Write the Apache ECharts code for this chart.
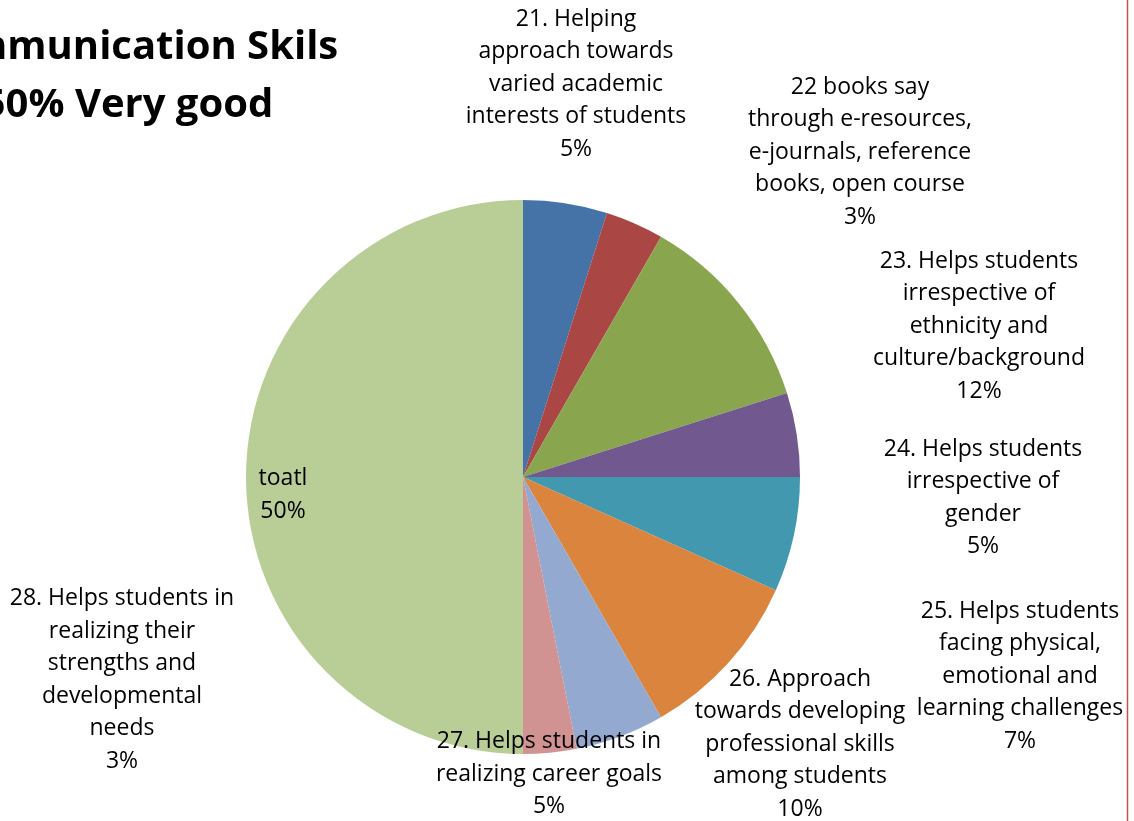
<!DOCTYPE html>
<html><head><meta charset="utf-8">
<script src="https://cdn.jsdelivr.net/npm/echarts@6/dist/echarts.min.js"></script>
<style>html,body{margin:0;padding:0;background:#fff}#c{width:1134px;height:821px}</style>
</head><body><div id="c"></div>
<script>
const categories = [
  "21. Helping\napproach towards\nvaried academic\ninterests of students",
  "22 books say\nthrough e-resources,\ne-journals, reference\nbooks, open course",
  "23. Helps students\nirrespective of\nethnicity and\nculture/background",
  "24. Helps students\nirrespective of\ngender",
  "25. Helps students\nfacing physical,\nemotional and\nlearning challenges",
  "26. Approach\ntowards developing\nprofessional skills\namong students",
  "27. Helps students in\nrealizing career goals",
  "28. Helps students in\nrealizing their\nstrengths and\ndevelopmental\nneeds",
  "toatl"
];
const values = [4.9, 3.4, 11.8, 4.9, 6.7, 10.0, 5.2, 3.1, 50.0];
const percentLabels = ["5%", "3%", "12%", "5%", "7%", "10%", "5%", "3%", "50%"];
const colors = ["#4572A7", "#AA4643", "#89A54E", "#71588F", "#4198AF", "#DB843D", "#93A9CF", "#D19392", "#B9CD96"];
const titleLines = ["Communication Skils", "50% Very good"];

// label block centers (layout only)
const labelPos = [
  [576, 84], [860, 152], [979, 326], [983, 498], [1020, 676],
  [800, 744], [549, 774], [122, 680], [283, 495]
];

const chart = echarts.init(document.getElementById('c'), null, {renderer: 'canvas'});
const font = "'Open Sans', sans-serif";
chart.setOption({
  animation: false,
  title: {
    text: titleLines.join('\n'),
    left: 123, top: 14,
    textAlign: 'center',
    textStyle: {fontFamily: font, fontWeight: 'bold', fontSize: 40, lineHeight: 58, color: '#000', align: 'center'}
  },
  graphic: [{
    type: 'line', shape: {x1: 1127.5, y1: 0, x2: 1127.5, y2: 821},
    style: {stroke: '#C0504D', lineWidth: 1.5}
  }],
  series: [{
    type: 'pie',
    center: [523, 477],
    radius: 277,
    startAngle: 90,
    clockwise: true,
    avoidLabelOverlap: false,
    data: categories.map((c, i) => ({name: c, value: values[i], itemStyle: {color: colors[i]}})),
    label: {
      show: true,
      position: 'outside',
      formatter: p => p.name + '\n' + percentLabels[p.dataIndex],
      fontFamily: font, fontSize: 23, lineHeight: 32.5, color: '#000',
      align: 'center', verticalAlign: 'middle'
    },
    labelLine: {show: false},
    labelLayout: function (p) {
      const pos = labelPos[p.dataIndex];
      return {x: pos[0], y: pos[1], align: 'center', verticalAlign: 'middle', hideOverlap: false, moveOverlap: false};
    },
    emphasis: {disabled: true}
  }]
});
</script></body></html>
